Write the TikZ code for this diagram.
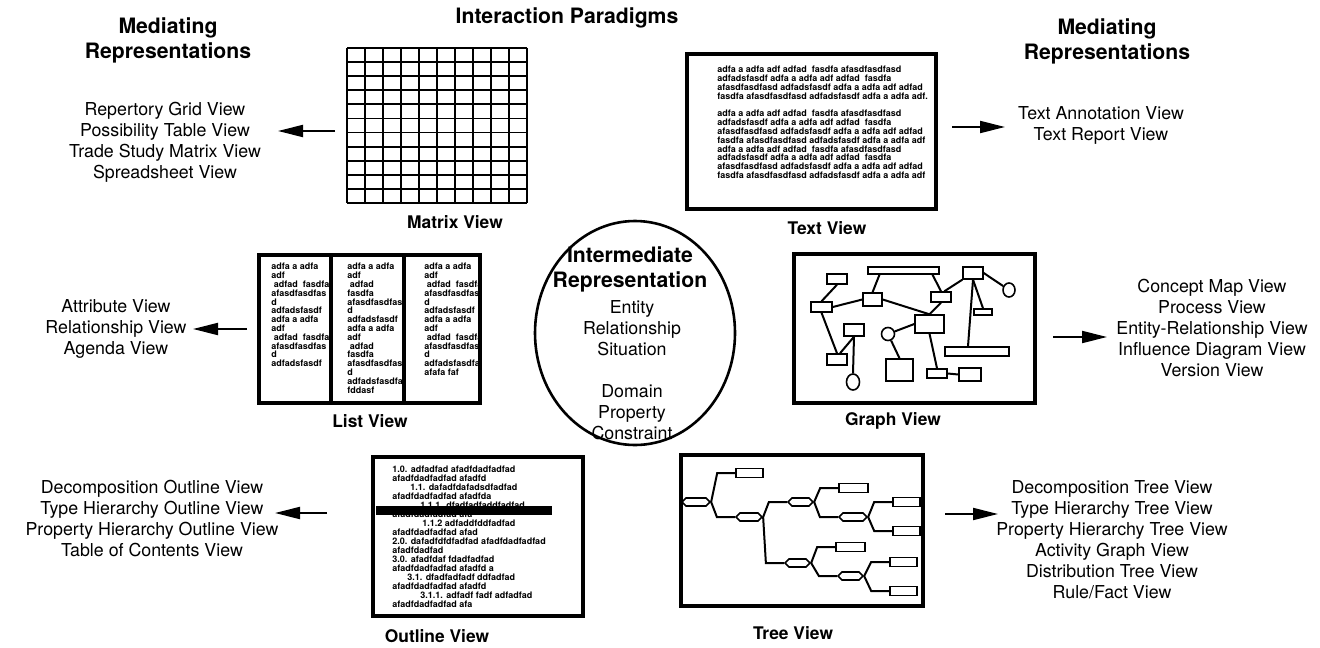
\documentclass[tikz,border=0pt]{standalone}
\usepackage{fontspec}
\setmainfont{TeX Gyre Heros}
\usetikzlibrary{arrows.meta,shapes.geometric,shapes.symbols,shapes.misc,calc}

\newcommand\lblfont{\fontsize{8.9}{10.5}\selectfont}
\newcommand\headfont{\fontsize{10.6}{12.5}\selectfont\bfseries}
\newcommand\viewfont{\fontsize{8.7}{10}\selectfont\bfseries}
\newcommand\fillfont{\fontsize{4.5}{4.4}\selectfont\bfseries}
\newcommand\outfont{\fontsize{4.5}{4.5}\selectfont\bfseries}

\tikzset{
	lbl/.style={align=center, inner sep=0pt, font=\lblfont},
	head/.style={align=center, inner sep=0pt, font=\headfont},
	viewlbl/.style={inner sep=0pt, font=\viewfont},
	viewframe/.style={draw, line width=2pt},
	gridline/.style={line width=0.9pt},
	filler/.style={align=left, inner sep=0pt, anchor=north west, font=\fillfont},
	pointer/.style={-{Triangle[length=12.5pt,width=6pt]}, line width=1pt},
	gbox/.style 2 args={draw, line width=0.7pt, inner sep=0pt, minimum width=#1*0.5pt, minimum height=#2*0.5pt},
	gdot/.style 2 args={ellipse, draw, line width=0.8pt, inner sep=0pt, minimum width=#1*0.5pt, minimum height=#2*0.5pt},
	gedge/.style={line width=1pt},
	hexnode/.style={signal, signal to=east and west, draw, line width=0.8pt, inner sep=0pt, minimum width=#1*0.5pt, minimum height=4pt},
	leafnode/.style={chamfered rectangle, chamfered rectangle corners=north east, chamfered rectangle xsep=2.5pt, chamfered rectangle ysep=2.5pt, draw, line width=0.8pt, inner sep=0pt, minimum width=#1*0.5pt, minimum height=4.5pt},
	tedge/.style={line width=1pt},
}

\begin{document}
\begin{tikzpicture}[x=0.5pt,y=-0.5pt]
	\useasboundingbox (0,0) rectangle (1320,647);
	
	% headings
	\node[head] (paradigms) at (567,18) {Interaction Paradigms};
	\node[head] (medleft) at (168,40.5) {Mediating\\Representations};
	\node[head] (medright) at (1107,41) {Mediating\\Representations};
	
	% matrix view
	\foreach \i in {0,...,10}{
		\draw[gridline] (347+18*\i,48) -- (347+18*\i,203);%cols
	}
	\foreach \j in {0,...,11}{
		\draw[gridline] (347,{48+155*\j/11}) -- (527,{48+155*\j/11});%rows
	}
	\node[viewlbl] (mtxlbl) at (455,222) {Matrix View};
	
	% text view
	\node[filler] (txtbody) at (717,66) {adfa a adfa adf adfad\ \ fasdfa afasdfasdfasd\\
		adfadsfasdf adfa a adfa adf adfad\ \ fasdfa\\
		afasdfasdfasd adfadsfasdf adfa a adfa adf adfad\\
		fasdfa afasdfasdfasd adfadsfasdf adfa a adfa adf.\\[4.4pt]
		adfa a adfa adf adfad\ \ fasdfa afasdfasdfasd\\
		adfadsfasdf adfa a adfa adf adfad\ \ fasdfa\\
		afasdfasdfasd adfadsfasdf adfa a adfa adf adfad\\
		fasdfa afasdfasdfasd adfadsfasdf adfa a adfa adf\\
		adfa a adfa adf adfad\ \ fasdfa afasdfasdfasd\\
		adfadsfasdf adfa a adfa adf adfad\ \ fasdfa\\
		afasdfasdfasd adfadsfasdf adfa a adfa adf adfad\\
		fasdfa afasdfasdfasd adfadsfasdf adfa a adfa adf};
	\draw[viewframe] (687,54) rectangle (936,209);
	\node[viewlbl] (txtlbl) at (827,228) {Text View};
	
	% list view
	\node[filler] (lstone) at (271,263) {adfa a adfa\\adf\\\hspace*{1.2pt}adfad\ \ fasdfa\\afasdfasdfas\\d\\adfadsfasdf\\
		adfa a adfa\\adf\\\hspace*{1.2pt}adfad\ \ fasdfa\\afasdfasdfas\\d\\adfadsfasdf};
	\node[filler] (lsttwo) at (347,263) {adfa a adfa\\adf\\\hspace*{1.2pt}adfad\\fasdfa\\afasdfasdfas\\d\\adfadsfasdf\\
		adfa a adfa\\adf\\\hspace*{1.2pt}adfad\\fasdfa\\afasdfasdfas\\d\\adfadsfasdfa\\fddasf};
	\node[filler] (lstthree) at (424,263) {adfa a adfa\\adf\\\hspace*{1.2pt}adfad\ \ fasdfa\\afasdfasdfas\\d\\adfadsfasdf\\
		adfa a adfa\\adf\\\hspace*{1.2pt}adfad\ \ fasdfa\\afasdfasdfas\\d\\adfadsfasdfa\\afafa faf};
	\draw[viewframe] (259,255) rectangle (480,403);
	\draw[viewframe] (331,255) -- (331,403);
	\draw[viewframe] (404,255) -- (404,403);
	\node[viewlbl] (lstlbl) at (370,421) {List View};
	
	% graph view
	\node[gbox={20}{10}] (ga) at (837,279) {};
	\node[gbox={71}{7}] (gb) at (903.5,270.5) {};
	\node[gbox={20}{12}] (gc) at (973,273) {};
	\node[gdot={12}{14}] (gd) at (1009,290) {};
	\node[gbox={19}{13}] (ge) at (872.5,299.5) {};
	\node[gbox={20}{10}] (gf) at (941,297) {};
	\node[gbox={21}{10}] (gg) at (821.5,307) {};
	\node[gbox={18}{6}] (gh) at (983,312) {};
	\node[gbox={29}{18}] (gi) at (929.5,324) {};
	\node[gbox={20}{12}] (gj) at (854,330) {};
	\node[gdot={13}{13}] (gk) at (888,334) {};
	\node[gbox={64}{9}] (gl) at (977,351.5) {};
	\node[gbox={20}{11}] (gm) at (837,359.5) {};
	\node[gbox={27}{22}] (gn) at (899.5,370) {};
	\node[gbox={20}{9}] (go) at (937,373.5) {};
	\node[gbox={22}{13}] (gp) at (970,374.5) {};
	\node[gdot={13}{16}] (gq) at (853,382) {};
	\draw[gedge] (ga.south) -- (gg.north);
	\draw[gedge] (gg.east) -- (ge.west);
	\draw[gedge] (ge.north) -- ([xshift=-12pt]gb.south);
	\draw[gedge] ([xshift=14.5pt]gb.south) -- (gf.north);
	\draw[gedge] (ge.east) -- (gi.north);
	\draw[gedge] (gf.south) -- (gi.north);
	\draw[gedge] (gf.60) -- (gc.south west);
	\draw[gedge] (gc.east) -- (gd);
	\draw[gedge] (gc.south) -- (gh.north);
	\draw[gedge] (gc.south) -- ([xshift=-4.5pt]gl.north);
	\draw[gedge] (gg.south) -- (gm.north);
	\draw[gedge] ([xshift=1.5pt]gm.north) -- (gj.south);
	\draw[gedge] (gj.south) -- (gq.north);
	\draw[gedge] (gk) -- (gi.west);
	\draw[gedge] (gk) -- (gn.north);
	\draw[gedge] (gi.south) -- (go.north);
	\draw[gedge] (go.east) -- (gp.west);
	\draw[viewframe] (794,254) rectangle (1035,403);
	\node[viewlbl] (grflbl) at (893,421) {Graph View};
	
	% intermediate representation
	\node[ellipse, draw, line width=1.3pt, minimum width=100pt, minimum height=112pt, inner sep=0pt] (irep) at (635,333) {};
	\node[head] (irtitle) at (630,269.5) {Intermediate\\Representation};
	\node[lbl] (irbody) at (632,370) {Entity\\Relationship\\Situation\\[10.5pt]Domain\\Property\\Constraint};
	
	% outline view
	\node[filler, font=\outfont] (outbody) at (392,466) {1.0. adfadfad afadfdadfadfad\\
		afadfdadfadfad afadfd\\
		\hspace*{9pt}1.1. dafadfdafadsdfadfad\\
		afadfdadfadfad afadfda\\
		\hspace*{14pt}1.1.1. dfadfadfaddfadfad\\
		afadfdadfadfad afa\\
		\hspace*{15pt}1.1.2 adfaddfddfadfad\\
		afadfdadfadfad afad\\
		2.0. dafadfdfdfadfad afadfdadfadfad\\
		afadfdadfad\\
		3.0. afadfdaf fdadfadfad\\
		afadfdadfadfad afadfd a\\
		\hspace*{7.5pt}3.1. dfadfadfadf ddfadfad\\
		afadfdadfadfad afadfd\\
		\hspace*{14pt}3.1.1. adfadf fadf adfadfad\\
		afadfdadfadfad afa};
	\fill (376,506) rectangle (552,515);
	\draw[viewframe] (373,457) rectangle (583,616);
	\node[viewlbl] (outlbl) at (437,636) {Outline View};
	
	% tree view
	\node[hexnode=28] (root) at (696,502) {};
	\node[leafnode=27] (lfa) at (749.5,473) {};
	\node[hexnode=26] (hxb) at (749,517) {};
	\node[hexnode=25] (hxc) at (800.5,502) {};
	\node[leafnode=29] (lfb) at (853.5,488) {};
	\node[hexnode=28] (hxe) at (853,517) {};
	\node[leafnode=27] (lfc) at (906.5,502) {};
	\node[leafnode=27] (lfd) at (906.5,531) {};
	\node[hexnode=25] (hxd) at (797.5,563) {};
	\node[leafnode=29] (lfe) at (850.5,547) {};
	\node[hexnode=25] (hxf) at (850.5,576) {};
	\node[leafnode=27] (lff) at (903.5,562) {};
	\node[leafnode=27] (lfg) at (903.5,591) {};
	\foreach \p/\c in {root/lfa,root/hxb,hxb/hxc,hxb/hxd,hxc/lfb,hxc/hxe,hxe/lfc,hxe/lfd,hxd/lfe,hxd/hxf,hxf/lff,hxf/lfg}{
		\draw[tedge] (\p.east) -- ([xshift=-9pt]\c.west) -- (\c.west);
	}
	\draw[viewframe] (681,455) rectangle (923,606);
	\node[viewlbl] (trelbl) at (793,633) {Tree View};
	
	% mediating representations
	\node[lbl] (mtxviews) at (165,142) {Repertory Grid View\\Possibility Table View\\Trade Study Matrix View\\Spreadsheet View};
	\node[lbl] (lstviews) at (116,329) {Attribute View\\Relationship View\\Agenda View};
	\node[lbl] (outviews) at (152,518.5) {Decomposition Outline View\\Type Hierarchy Outline View\\Property Hierarchy Outline View\\Table of Contents View};
	\node[lbl] (txtviews) at (1101,125) {Text Annotation View\\Text Report View};
	\node[lbl] (grfviews) at (1212,328) {Concept Map View\\Process View\\Entity-Relationship View\\Influence Diagram View\\Version View};
	\node[lbl] (treviews) at (1112,539.5) {Decomposition Tree View\\Type Hierarchy Tree View\\Property Hierarchy Tree View\\Activity Graph View\\Distribution Tree View\\Rule/Fact View};
	
	% arrows
	\coordinate (mtxtail) at (335,131); \coordinate (mtxtip) at (278,131);
	\coordinate (lsttail) at (247,329); \coordinate (lsttip) at (193,329);
	\coordinate (outtail) at (327,513); \coordinate (outtip) at (275,513);
	\coordinate (txttail) at (952,127); \coordinate (txttip) at (1005,127);
	\coordinate (grftail) at (1053,337); \coordinate (grftip) at (1107,337);
	\coordinate (tretail) at (945,514); \coordinate (tretip) at (998,514);
	\foreach \v in {mtx,lst,out,txt,grf,tre}{
		\draw[pointer] (\v tail) -- (\v tip);
	}
\end{tikzpicture}
\end{document}
